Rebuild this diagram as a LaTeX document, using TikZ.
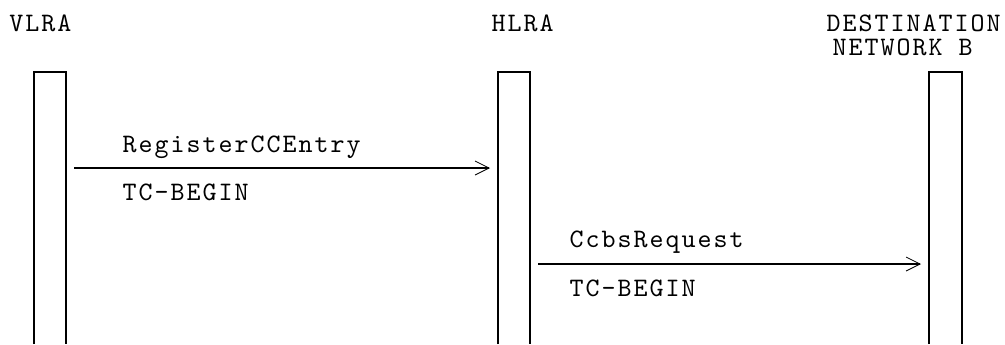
\documentclass[tikz,border=0pt]{standalone}
\usepackage{fontspec}
\newfontfamily\seqfont[LetterSpace=7.5]{lmmono10-regular.otf}
\usetikzlibrary{arrows.meta}

\tikzset{every picture/.style={line width=0.75pt}}
\tikzset{
	lifeline/.style={line width=1.2pt},
	msg/.style={line width=1.5pt,-{Straight Barb[length=10.5pt,width=10.5pt,line width=0.6pt].}},
	lbl/.style={anchor=base west,inner sep=0pt,font=\seqfont\fontsize{20}{24}\selectfont}
}

\begin{document}
\begin{tikzpicture}[x=0.75pt,y=0.75pt,yscale=-1,xscale=1]
	\useasboundingbox (0,0) rectangle (1005,344);
	
	%Shape: Lifeline VLRA
	\draw [lifeline] (34,344) -- (34,72) -- (66,72) -- (66,344) ;
	%Shape: Lifeline HLRA
	\draw [lifeline] (498,344) -- (498,72) -- (530,72) -- (530,344) ;
	%Shape: Lifeline destination
	\draw [lifeline] (929,344) -- (929,72) -- (962,72) -- (962,344) ;
	
	%Arrow ends
	\coordinate (vlraOut) at (74,168);
	\coordinate (hlraIn) at (490,168);
	\coordinate (hlraOut) at (538,264);
	\coordinate (destIn) at (921,264);
	
	%Straight Lines [RegisterCCEntry]
	\draw [msg] (vlraOut) -- (hlraIn) ;
	%Straight Lines [CcbsRequest]
	\draw [msg] (hlraOut) -- (destIn) ;
	
	% Text Node
	\draw (9,31) node [lbl] (vlra) {VLRA};
	% Text Node
	\draw (491,31) node [lbl] (hlra) {HLRA};
	% Text Node
	\draw (826,31) node [lbl] (dest) {DESTINATION};
	% Text Node
	\draw (832,55) node [lbl] (destNet) {NETWORK B};
	% Text Node
	\draw (122,152) node [lbl] (regOp) {RegisterCCEntry};
	% Text Node
	\draw (122,200) node [lbl] (regTc) {TC-BEGIN};
	% Text Node
	\draw (569,247) node [lbl] (ccbsOp) {CcbsRequest};
	% Text Node
	\draw (569,296) node [lbl] (ccbsTc) {TC-BEGIN};
	
\end{tikzpicture}
\end{document}
